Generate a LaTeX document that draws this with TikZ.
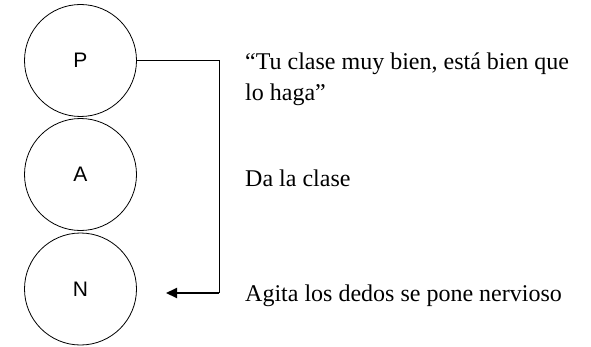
\documentclass[tikz,border=0pt]{standalone}
\usepackage{fontspec}
\setmainfont{Liberation Serif}
\newfontfamily\circfont{Liberation Sans}
\usetikzlibrary{arrows.meta}
\begin{document}
\begin{tikzpicture}[x=1pt,y=1pt,
  circ/.style={circle, draw, line width=0.8pt, minimum size=112pt, inner sep=0pt, font=\circfont\fontsize{21}{21}\selectfont},
  lbl/.style={anchor=base west, inner sep=0pt, font=\fontsize{24}{31}\selectfont}]
\useasboundingbox (0,0) rectangle (591,346);
\node[circ] (P) at (80.5,285.5) {P};
\node[circ] (A) at (80.5,171.5) {A};
\node[circ] (N) at (80.5,57) {N};
\coordinate (c1) at (219,285.5);
\coordinate (c2) at (219,53);
\coordinate (tip) at (166,53);
\draw[line width=1pt] (P.east) -- (c1) -- (c2);
\draw[line width=2pt, -{Triangle[length=11pt,width=10pt]}] (c2) -- (tip);
\node[lbl] (t1) at (245,276) {“Tu clase muy bien, está bien que};
\node[lbl] (t2) at (245,245) {lo haga”};
\node[lbl] (t3) at (245,160) {Da la clase};
\node[lbl] (t4) at (245,44.5) {Agita los dedos se pone nervioso};
\end{tikzpicture}
\end{document}
